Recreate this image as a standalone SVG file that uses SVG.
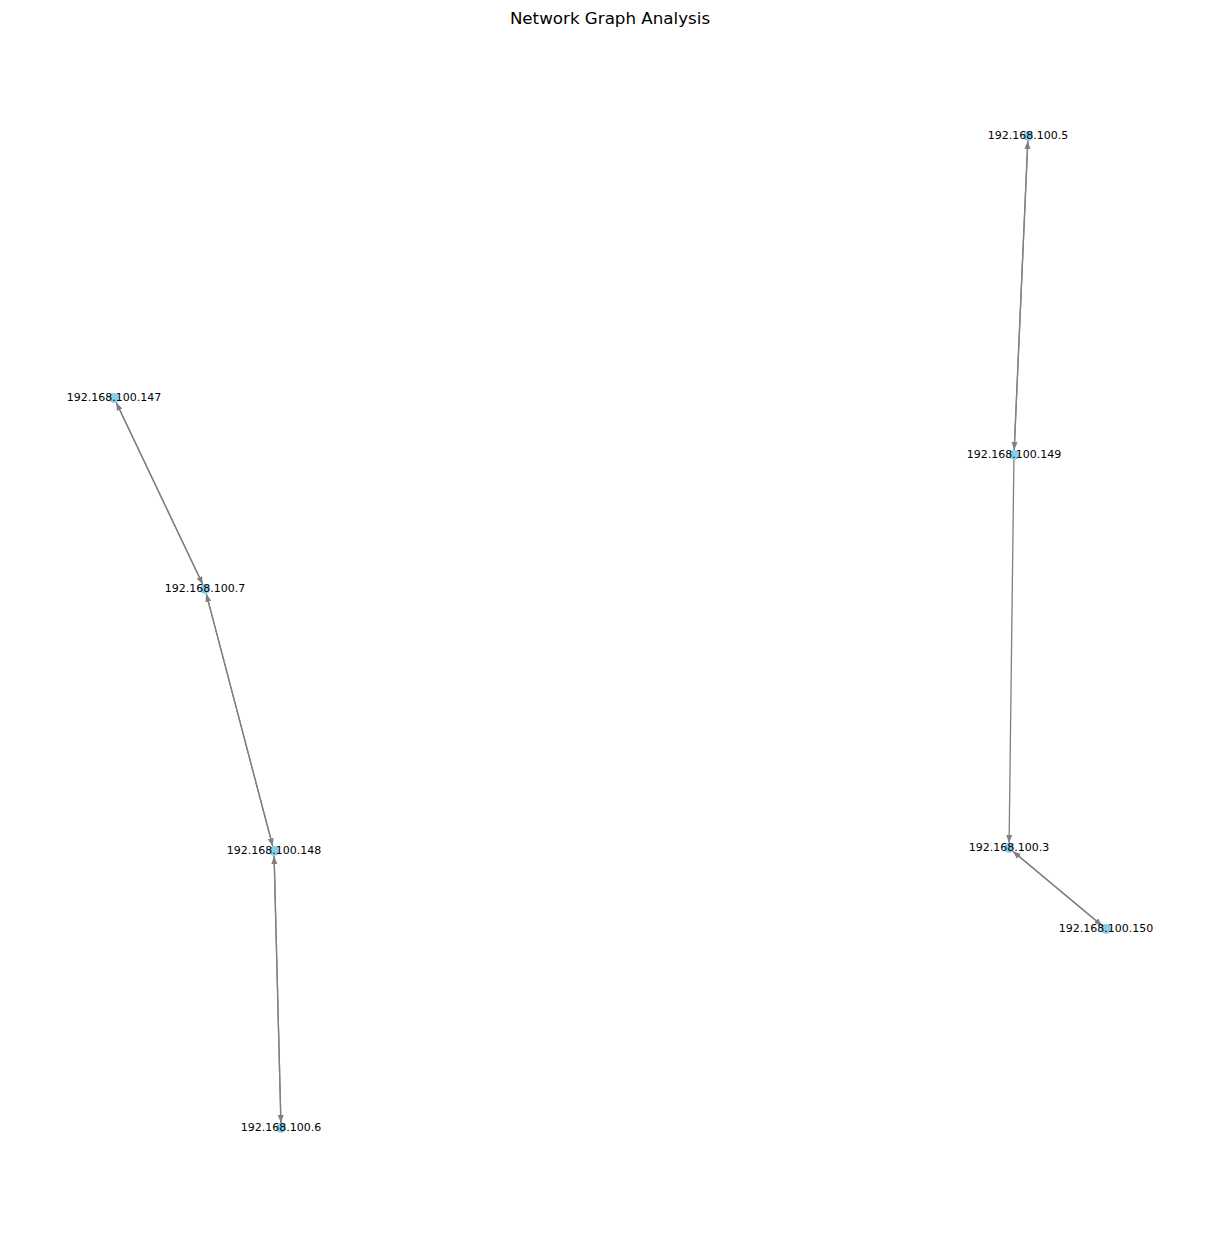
<svg xmlns="http://www.w3.org/2000/svg" width="1220" height="1242" viewBox="0 0 1220 1242">
<style>
.edge{stroke:#808080;stroke-width:1.3;fill:none;marker-end:url(#ah)}
.node circle{fill:#87ceeb}
.node text{font-family:"DejaVu Sans",sans-serif;font-size:11px;fill:#000;text-anchor:middle;dominant-baseline:central}
.title{font-family:"DejaVu Sans",sans-serif;font-size:16.7px;fill:#000;text-anchor:middle}
</style>
<defs>
<marker id="ah" markerUnits="userSpaceOnUse" markerWidth="9" markerHeight="8" refX="8" refY="3.5" orient="auto">
<path d="M0,0.5 L8,3.5 L0,6.5 Z" fill="#808080"/>
</marker>
</defs>
<rect width="1220" height="1242" fill="#fff"/>
<text class="title" x="610" y="24">Network Graph Analysis</text>
<g id="edges">
<line class="edge" x1="116.2" y1="402.5" x2="202.8" y2="584.5"/>
<line class="edge" x1="202.8" y1="584.5" x2="116.2" y2="402.5"/>
<line class="edge" x1="206.3" y1="593.8" x2="272.7" y2="846.2"/>
<line class="edge" x1="272.7" y1="846.2" x2="206.3" y2="593.8"/>
<line class="edge" x1="274.1" y1="856" x2="280.9" y2="1123"/>
<line class="edge" x1="280.9" y1="1123" x2="274.1" y2="856"/>
<line class="edge" x1="1027.8" y1="141" x2="1014.2" y2="450"/>
<line class="edge" x1="1014.2" y1="450" x2="1027.8" y2="141"/>
<line class="edge" x1="1013.9" y1="460" x2="1009.1" y2="843"/>
<line class="edge" x1="1012.8" y1="851.2" x2="1102.2" y2="925.8"/>
<line class="edge" x1="1102.2" y1="925.8" x2="1012.8" y2="851.2"/>
</g>
<g id="n147" class="node"><circle cx="114" cy="398" r="5"/><text x="114" y="397.5">192.168.100.147</text></g>
<g id="n7" class="node"><circle cx="205" cy="589" r="5"/><text x="205" y="588.5">192.168.100.7</text></g>
<g id="n148" class="node"><circle cx="274" cy="851" r="5"/><text x="274" y="850.5">192.168.100.148</text></g>
<g id="n6" class="node"><circle cx="281" cy="1128" r="5"/><text x="281" y="1127.5">192.168.100.6</text></g>
<g id="n5" class="node"><circle cx="1028" cy="136" r="5"/><text x="1028" y="135.5">192.168.100.5</text></g>
<g id="n149" class="node"><circle cx="1014" cy="455" r="5"/><text x="1014" y="454.5">192.168.100.149</text></g>
<g id="n3" class="node"><circle cx="1009" cy="848" r="5"/><text x="1009" y="847.5">192.168.100.3</text></g>
<g id="n150" class="node"><circle cx="1106" cy="929" r="5"/><text x="1106" y="928.5">192.168.100.150</text></g>
</svg>
